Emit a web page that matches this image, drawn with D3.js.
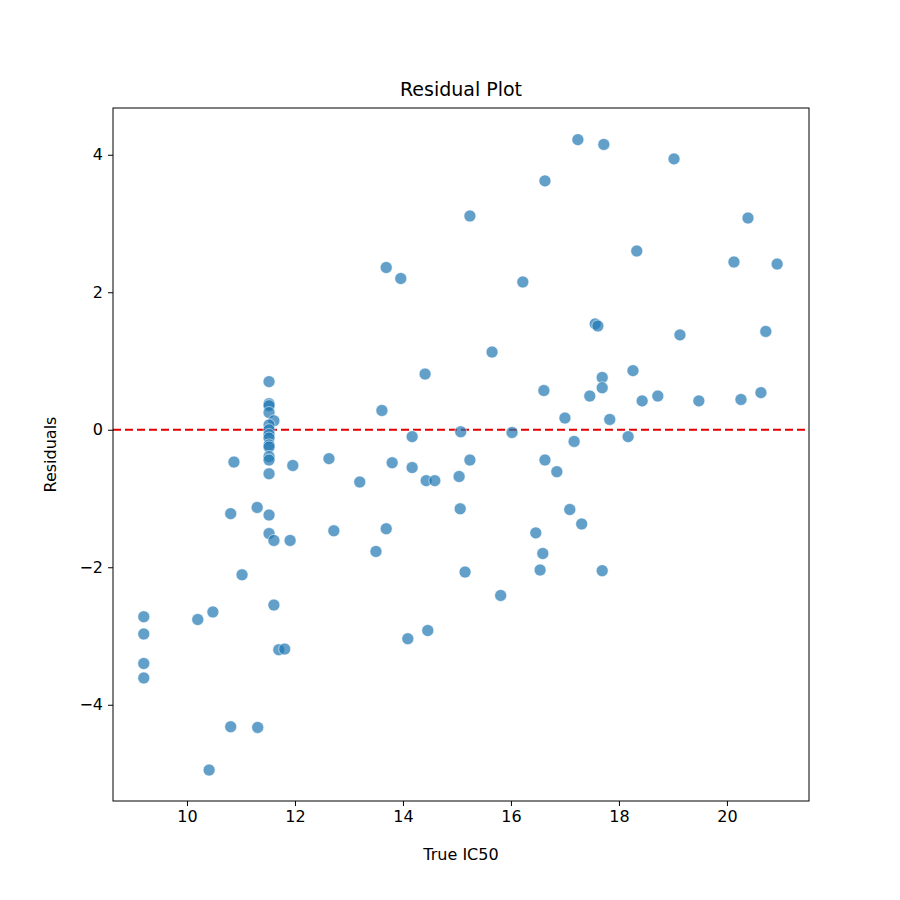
<!DOCTYPE html>
<html>
<head>
<style>
body { margin: 0; background: #fff; }
text { font-family: "DejaVu Sans", sans-serif; }
</style>
<script src="https://cdn.jsdelivr.net/npm/d3@7"></script>
</head>
<body>
<svg id="chart" width="900" height="900"></svg>
<script>
// true IC50 values and residuals
const trueIC50 = [17.24,17.72,19.02,16.63,15.24,20.39,18.33,13.69,13.96,16.22,20.13,20.93,17.56,17.61,19.13,20.72,15.65,14.41,
	18.26,17.69,17.69,16.61,17.46,18.43,18.72,19.48,20.26,20.63,13.61,17.0,17.83,15.07,14.17,16.02,17.17,18.17,
	10.87,11.96,12.63,15.24,16.63,13.80,14.17,16.85,15.04,14.43,14.59,13.2,10.81,11.30,11.52,15.06,17.09,17.31,
	12.72,13.69,16.46,11.52,11.61,11.91,13.5,16.59,11.02,15.15,16.54,17.69,15.81,11.61,10.48,10.2,9.2,9.2,
	14.46,14.09,11.70,11.81,9.2,9.2,10.81,11.31,10.41,
	11.52,11.52,11.52,11.52,11.61,11.52,11.52,11.52,11.52,11.52,11.52,11.52,11.52,11.52];
const residuals = [4.22,4.15,3.94,3.62,3.11,3.08,2.60,2.36,2.20,2.15,2.44,2.41,1.54,1.51,1.38,1.43,1.13,0.81,
	0.86,0.76,0.61,0.57,0.49,0.42,0.49,0.42,0.44,0.54,0.28,0.17,0.15,-0.03,-0.10,-0.04,-0.17,-0.10,
	-0.47,-0.52,-0.42,-0.44,-0.44,-0.48,-0.55,-0.61,-0.68,-0.74,-0.74,-0.76,-1.22,-1.13,-1.24,-1.15,-1.16,-1.37,
	-1.47,-1.44,-1.50,-1.51,-1.61,-1.61,-1.77,-1.80,-2.11,-2.07,-2.04,-2.05,-2.41,-2.55,-2.65,-2.76,-2.72,-2.97,
	-2.92,-3.04,-3.20,-3.19,-3.40,-3.61,-4.32,-4.33,-4.95,
	0.70,0.38,0.35,0.25,0.13,0.07,0.0,-0.07,-0.12,-0.22,-0.25,-0.39,-0.44,-0.64];
const xTicks = [10,12,14,16,18,20];
const yTicks = [-4,-2,0,2,4];

var svg = d3.select("#chart");
var plotLeft = 113, plotRight = 809, plotTop = 108, plotBottom = 801;
var x = d3.scaleLinear().domain([8.63, 21.52]).range([plotLeft, plotRight]);
var y = d3.scaleLinear().domain([-5.40, 4.68]).range([plotBottom, plotTop]);

var xAxis = svg.append("g").attr("transform", "translate(0," + plotBottom + ")")
	.call(d3.axisBottom(x).tickValues(xTicks).tickSize(5).tickPadding(5).tickFormat(d3.format("d")));
var yAxis = svg.append("g").attr("transform", "translate(" + plotLeft + ",0)")
	.call(d3.axisLeft(y).tickValues(yTicks).tickSize(5).tickPadding(5).tickFormat(d => d < 0 ? "\u2212" + (-d) : d));
[xAxis, yAxis].forEach(function(a) {
	a.selectAll("text").attr("font-size", 16).attr("fill", "#000").style("font-family", "DejaVu Sans");
	a.select(".domain").remove();
	a.selectAll("line").attr("stroke", "#000");
});

svg.append("line")
	.attr("x1", plotLeft).attr("x2", plotRight).attr("y1", y(0)).attr("y2", y(0))
	.attr("stroke", "#e00000").attr("stroke-width", 2).attr("stroke-dasharray", "8,4");

svg.append("g").selectAll("circle")
	.data(trueIC50.map((d, i) => [d, residuals[i]]))
	.enter().append("circle")
	.attr("cx", d => x(d[0])).attr("cy", d => y(d[1])).attr("r", 6)
	.attr("fill", "#1f77b4").attr("fill-opacity", 0.7)
	.attr("stroke", "#fff").attr("stroke-opacity", 0.7).attr("stroke-width", 0.8);

svg.append("rect").attr("x", plotLeft).attr("y", plotTop)
	.attr("width", plotRight - plotLeft).attr("height", plotBottom - plotTop)
	.attr("fill", "none").attr("stroke", "#000").attr("stroke-width", 1);

svg.append("text").attr("x", (plotLeft + plotRight) / 2).attr("y", 96).attr("text-anchor", "middle")
	.attr("font-size", 19).text("Residual Plot");
svg.append("text").attr("x", (plotLeft + plotRight) / 2).attr("y", 860).attr("text-anchor", "middle")
	.attr("font-size", 16).text("True IC50");
svg.append("text").attr("transform", "translate(56," + (plotTop + plotBottom) / 2 + ") rotate(-90)")
	.attr("text-anchor", "middle").attr("font-size", 16).text("Residuals");
</script>
</body>
</html>
